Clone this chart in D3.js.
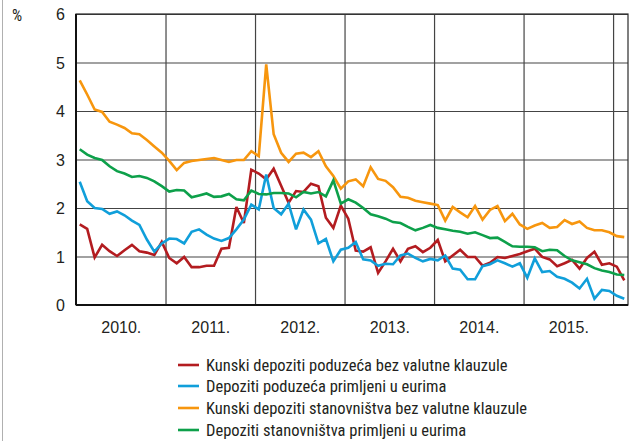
<!DOCTYPE html>
<html>
<head>
<meta charset="utf-8">
<script src="https://cdn.jsdelivr.net/npm/d3@7"></script>
<style>
  html, body { margin: 0; padding: 0; background: #fff; }
  svg { display: block; }
  text { font-family: "Liberation Sans Narrow", "Arial Narrow", "Roboto Condensed", "Liberation Sans", sans-serif; fill: #231f20; }
</style>
</head>
<body>
<svg id="chart" width="632" height="441"></svg>
<script>
// ---------- data ----------
const years = ["2010.", "2011.", "2012.", "2013.", "2014.", "2015."];
const yTicks = [0, 1, 2, 3, 4, 5, 6];
const seriesNames = [
  "Kunski depoziti poduzeća bez valutne klauzule",
  "Depoziti poduzeća primljeni u eurima",
  "Kunski depoziti stanovništva bez valutne klauzule",
  "Depoziti stanovništva primljeni u eurima"
];
// monthly values, Jan 2010 – Feb 2016
const kunskiPoduzeca = [
  1.66, 1.57, 0.98, 1.24, 1.11, 1.01, 1.13, 1.24, 1.11, 1.08, 1.03, 1.30,
  0.97, 0.86, 0.99, 0.78, 0.78, 0.81, 0.81, 1.16, 1.18, 2.02, 1.69, 2.79,
  2.71, 2.59, 2.81, 2.46, 2.11, 2.35, 2.33, 2.50, 2.45, 1.80, 1.59, 2.05,
  1.78, 1.12, 1.10, 1.19, 0.66, 0.90, 1.16, 0.90, 1.16, 1.21, 1.09, 1.18,
  1.34, 0.90, 1.02, 1.14, 0.99, 0.99, 0.81, 0.87, 0.99, 0.97, 1.01, 1.05,
  1.11, 1.16, 0.99, 0.94, 0.80, 0.86, 0.93, 0.75, 0.97, 1.10, 0.83, 0.86,
  0.79, 0.51
];
const euroPoduzeca = [
  2.54, 2.14, 2.00, 1.98, 1.88, 1.93, 1.85, 1.74, 1.65, 1.35, 1.10, 1.27,
  1.37, 1.36, 1.27, 1.51, 1.56, 1.45, 1.37, 1.32, 1.38, 1.56, 1.76, 2.07,
  1.97, 2.69, 2.00, 1.87, 2.09, 1.56, 1.97, 1.76, 1.27, 1.36, 0.90, 1.14,
  1.18, 1.30, 0.94, 0.92, 0.81, 0.85, 0.84, 1.02, 1.06, 0.97, 0.90, 0.95,
  0.92, 1.02, 0.75, 0.73, 0.53, 0.53, 0.80, 0.84, 0.92, 0.86, 0.79, 0.86,
  0.56, 0.96, 0.68, 0.70, 0.58, 0.54, 0.46, 0.34, 0.54, 0.13, 0.31, 0.29,
  0.19, 0.13
];
const kunskiStanovnistva = [
  4.63, 4.34, 4.03, 3.98, 3.78, 3.72, 3.65, 3.54, 3.52, 3.40, 3.27, 3.14,
  2.97, 2.78, 2.93, 2.97, 2.99, 3.01, 3.03, 2.99, 2.95, 2.99, 2.99, 3.17,
  3.07, 4.96, 3.52, 3.14, 2.95, 3.12, 3.14, 3.05, 3.17, 2.86, 2.66, 2.40,
  2.55, 2.59, 2.45, 2.84, 2.60, 2.56, 2.43, 2.23, 2.21, 2.15, 2.12, 2.09,
  2.06, 1.74, 2.02, 1.91, 1.81, 2.04, 1.76, 1.96, 2.04, 1.73, 1.88, 1.66,
  1.57, 1.64, 1.69, 1.59, 1.61, 1.75, 1.67, 1.72, 1.59, 1.54, 1.54, 1.50,
  1.42, 1.40
];
const euroStanovnistva = [
  3.21, 3.10, 3.03, 2.99, 2.86, 2.76, 2.71, 2.64, 2.66, 2.62, 2.55, 2.45,
  2.34, 2.37, 2.36, 2.22, 2.26, 2.30, 2.23, 2.24, 2.29, 2.18, 2.16, 2.36,
  2.29, 2.28, 2.31, 2.31, 2.30, 2.22, 2.33, 2.30, 2.33, 2.24, 2.57, 2.09,
  2.18, 2.11, 2.00, 1.87, 1.83, 1.78, 1.71, 1.69, 1.61, 1.54, 1.59, 1.65,
  1.59, 1.56, 1.53, 1.51, 1.47, 1.50, 1.44, 1.38, 1.39, 1.30, 1.21, 1.20,
  1.20, 1.19, 1.11, 1.14, 1.13, 1.01, 0.92, 0.88, 0.84, 0.76, 0.71, 0.68,
  0.63, 0.62
];
const seriesColors = ["#b31c20", "#109fda", "#f7960e", "#0da04a"];
const allSeries = [kunskiPoduzeca, euroPoduzeca, kunskiStanovnistva, euroStanovnistva];

// ---------- layout ----------
const svg = d3.select("#chart");
const pL = 76, pR = 628, pT = 14, pB = 305;
const nMonths = 74;

const x = d3.scaleLinear().domain([0, nMonths]).range([pL, pR]);
const y = d3.scaleLinear().domain([0, 6]).range([pB, pT]);

// faint left frame line
svg.append("line").attr("x1", 2.5).attr("x2", 2.5).attr("y1", 0).attr("y2", 441)
  .attr("stroke", "#b0b0b0").attr("stroke-width", 1);

// horizontal grid
const yGrid = svg.append("g").attr("transform", `translate(${pL},0)`)
  .call(d3.axisLeft(y).tickValues(yTicks).tickSize(-(pR - pL)).tickFormat(""));
yGrid.select(".domain").remove();
yGrid.selectAll(".tick line").attr("stroke", "#444").attr("stroke-width", 1.2);

// vertical grid (year boundaries)
const yearBounds = d3.range(1, years.length + 1).map(k => k * 12);
const xGrid = svg.append("g").attr("transform", `translate(0,${pB})`)
  .call(d3.axisBottom(x).tickValues(yearBounds).tickSize(-(pB - pT)).tickFormat(""));
xGrid.select(".domain").remove();
xGrid.selectAll(".tick line").attr("stroke", "#444").attr("stroke-width", 1.2);

// frame
svg.append("rect").attr("x", pL).attr("y", pT)
  .attr("width", pR - pL).attr("height", pB - pT)
  .attr("fill", "none").attr("stroke", "#2a2a2a").attr("stroke-width", 1.2);
svg.append("line").attr("x1", pL).attr("x2", pL).attr("y1", pT).attr("y2", pB)
  .attr("stroke", "#111").attr("stroke-width", 2);
svg.append("line").attr("x1", pL).attr("x2", pR).attr("y1", pB).attr("y2", pB)
  .attr("stroke", "#111").attr("stroke-width", 2);

// y axis labels
const yAxis = svg.append("g").attr("transform", `translate(${pL},0)`)
  .call(d3.axisLeft(y).tickValues(yTicks).tickSize(0).tickPadding(11).tickFormat(d3.format("d")));
yAxis.select(".domain").remove();
yAxis.selectAll("text").style("font-size", "16px").attr("dy", "0.36em")
  .style("font-family", '"Liberation Sans Narrow","Arial Narrow",sans-serif').attr("fill", "#231f20");

svg.append("text").attr("x", 12).attr("y", 21).text("%")
  .style("font-size", "16px");

// x axis labels (centered in each year)
const xAxis = svg.append("g").attr("transform", `translate(0,${pB})`)
  .call(d3.axisBottom(x).tickValues(years.map((_, k) => k * 12 + 6)).tickSize(0).tickPadding(17)
    .tickFormat((d, k) => years[k]));
xAxis.select(".domain").remove();
xAxis.selectAll("text").style("font-size", "16px")
  .style("font-family", '"Liberation Sans Narrow","Arial Narrow",sans-serif').attr("fill", "#231f20");

// series lines
const line = d3.line().x((d, i) => x(i + 0.5)).y(d => y(d));
allSeries.forEach((s, k) => {
  svg.append("path").datum(s)
    .attr("d", line)
    .attr("fill", "none")
    .attr("stroke", seriesColors[k])
    .attr("stroke-width", 2.6)
    .attr("stroke-linejoin", "miter")
    .attr("stroke-miterlimit", 3);
});

// legend
const legendY = [365, 386, 408, 430];
const lg = svg.append("g");
seriesNames.forEach((name, k) => {
  lg.append("line").attr("x1", 178).attr("x2", 199)
    .attr("y1", legendY[k]).attr("y2", legendY[k])
    .attr("stroke", seriesColors[k]).attr("stroke-width", 2.6);
  lg.append("text").attr("x", 206).attr("y", legendY[k]).attr("dy", "0.36em")
    .text(name).style("font-size", "16.5px");
});
</script>
</body>
</html>
